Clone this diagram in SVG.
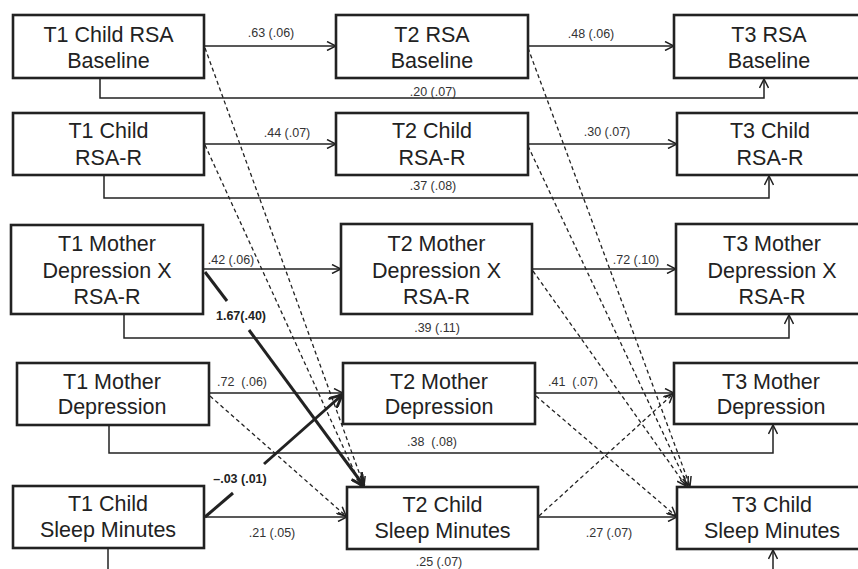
<svg xmlns="http://www.w3.org/2000/svg" width="858" height="569" viewBox="0 0 858 569">
<style>
.box{fill:#fff;stroke:#222;stroke-width:2.6}
.nt{font-family:"Liberation Sans",Arial,sans-serif;font-size:21.5px;fill:#222;text-anchor:middle}
.lb{font-family:"Liberation Sans",Arial,sans-serif;font-size:12.5px;fill:#333;text-anchor:middle}
.bl{font-weight:bold;fill:#222}
.ln{fill:none;stroke:#222;stroke-width:1.5}
.ds{fill:none;stroke:#222;stroke-width:1.3;stroke-dasharray:4 3}
.bd{fill:none;stroke:#222;stroke-width:3}
</style>
<defs>
<marker id="arr" viewBox="0 0 10 10" refX="10" refY="5" markerWidth="10" markerHeight="10" markerUnits="userSpaceOnUse" orient="auto">
<path d="M1,0.5 L10,5 L1,9.5" fill="none" stroke="#222" stroke-width="1.5"/>
</marker>
<marker id="arrb" viewBox="0 0 10 10" refX="10" refY="5" markerWidth="14" markerHeight="14" markerUnits="userSpaceOnUse" orient="auto">
<path d="M1,0.5 L10,5 L1,9.5" fill="none" stroke="#222" stroke-width="2"/>
</marker>
</defs>
<rect width="858" height="569" fill="#fff"/>

<g id="connectors">
<path class="ln" d="M204,46 H336" marker-end="url(#arr)"/>
<path class="ln" d="M528,46 H674" marker-end="url(#arr)"/>
<path class="ln" d="M100,78 V98 H764 V79" marker-end="url(#arr)"/>
<path class="ln" d="M204,144 H336" marker-end="url(#arr)"/>
<path class="ln" d="M528,144 H677" marker-end="url(#arr)"/>
<path class="ln" d="M104,175 V198 H769 V176" marker-end="url(#arr)"/>
<path class="ln" d="M203,269 H341" marker-end="url(#arr)"/>
<path class="ln" d="M532,269 H676" marker-end="url(#arr)"/>
<path class="ln" d="M124,314 V338 H789 V315" marker-end="url(#arr)"/>
<path class="ln" d="M209,393 H343" marker-end="url(#arr)"/>
<path class="ln" d="M535,393 H674" marker-end="url(#arr)"/>
<path class="ln" d="M109,425 V453 H773 V425" marker-end="url(#arr)"/>
<path class="ln" d="M204,517 H347" marker-end="url(#arr)"/>
<path class="ln" d="M538,517 H677" marker-end="url(#arr)"/>
<path class="ln" d="M108,548 V575"/>
<path class="ln" d="M773,575 V550" marker-end="url(#arr)"/>

<path class="ds" d="M205,48 L364,486" marker-end="url(#arr)"/>
<path class="ds" d="M205,145 L361,486" marker-end="url(#arr)"/>
<path class="ds" d="M210,396 L346,516" marker-end="url(#arr)"/>
<path class="ds" d="M528,48 L690,486" marker-end="url(#arr)"/>
<path class="ds" d="M528,146 L688,486" marker-end="url(#arr)"/>
<path class="ds" d="M533,271 L686,486" marker-end="url(#arr)"/>
<path class="ds" d="M536,396 L676,516" marker-end="url(#arr)"/>
<path class="ds" d="M539,516 L673,394" marker-end="url(#arr)"/>

<path class="bd" d="M205,272 L227,301"/>
<path class="bd" d="M249,330 L364,486" marker-end="url(#arrb)"/>
<path class="bd" d="M205,517 L233,493"/>
<path class="bd" d="M264,464 L342,395" marker-end="url(#arrb)"/>

<text class="lb" x="271" y="37">.63 (.06)</text>
<text class="lb" x="591" y="38">.48 (.06)</text>
<text class="lb" x="433" y="96">.20 (.07)</text>
<text class="lb" x="287" y="137">.44 (.07)</text>
<text class="lb" x="607" y="136">.30 (.07)</text>
<text class="lb" x="433" y="190">.37 (.08)</text>
<text class="lb" x="231" y="264">.42 (.06)</text>
<text class="lb" x="636" y="264">.72 (.10)</text>
<text class="lb bl" x="241" y="320">1.67(.40)</text>
<text class="lb" x="437" y="332">.39 (.11)</text>
<text class="lb" x="242" y="386" xml:space="preserve">.72  (.06)</text>
<text class="lb" x="573" y="386" xml:space="preserve">.41  (.07)</text>
<text class="lb" x="432" y="446" xml:space="preserve">.38  (.08)</text>
<text class="lb bl" x="240" y="483">–.03 (.01)</text>
<text class="lb" x="272" y="537">.21 (.05)</text>
<text class="lb" x="609" y="537">.27 (.07)</text>
<text class="lb" x="439" y="566">.25 (.07)</text>
</g>

<g id="t1_rsa_baseline"><rect class="box" x="13" y="15" width="191" height="63"/><text class="nt" x="108.5" y="41.5">T1 Child RSA</text><text class="nt" x="108.5" y="68">Baseline</text></g>
<g id="t2_rsa_baseline"><rect class="box" x="336" y="15" width="192" height="63"/><text class="nt" x="432" y="41.5">T2 RSA</text><text class="nt" x="432" y="68">Baseline</text></g>
<g id="t3_rsa_baseline"><rect class="box" x="674" y="15" width="192" height="63"/><text class="nt" x="769" y="41.5">T3 RSA</text><text class="nt" x="769" y="68">Baseline</text></g>

<g id="t1_rsar"><rect class="box" x="13" y="113" width="191" height="62"/><text class="nt" x="108.5" y="138">T1 Child</text><text class="nt" x="108.5" y="165">RSA-R</text></g>
<g id="t2_rsar"><rect class="box" x="336" y="113" width="192" height="62"/><text class="nt" x="432" y="138">T2 Child</text><text class="nt" x="432" y="165">RSA-R</text></g>
<g id="t3_rsar"><rect class="box" x="677" y="113" width="190" height="62"/><text class="nt" x="770" y="138">T3 Child</text><text class="nt" x="770" y="165">RSA-R</text></g>

<g id="t1_mdxrsa"><rect class="box" x="11" y="225" width="192" height="89"/><text class="nt" x="107" y="251">T1 Mother</text><text class="nt" x="107" y="278">Depression X</text><text class="nt" x="107" y="304">RSA-R</text></g>
<g id="t2_mdxrsa"><rect class="box" x="341" y="224" width="191" height="90"/><text class="nt" x="436.5" y="251">T2 Mother</text><text class="nt" x="436.5" y="278">Depression X</text><text class="nt" x="436.5" y="304">RSA-R</text></g>
<g id="t3_mdxrsa"><rect class="box" x="676" y="224" width="192" height="90"/><text class="nt" x="772" y="251">T3 Mother</text><text class="nt" x="772" y="278">Depression X</text><text class="nt" x="772" y="304">RSA-R</text></g>

<g id="t1_mdep"><rect class="box" x="17" y="363" width="192" height="62"/><text class="nt" x="112" y="389">T1 Mother</text><text class="nt" x="112" y="414">Depression</text></g>
<g id="t2_mdep"><rect class="box" x="343" y="363" width="192" height="61"/><text class="nt" x="439" y="389">T2 Mother</text><text class="nt" x="439" y="414">Depression</text></g>
<g id="t3_mdep"><rect class="box" x="674" y="363" width="194" height="61"/><text class="nt" x="771" y="389">T3 Mother</text><text class="nt" x="771" y="414">Depression</text></g>

<g id="t1_sleep"><rect class="box" x="13" y="486" width="191" height="62"/><text class="nt" x="108" y="511">T1 Child</text><text class="nt" x="108" y="537">Sleep Minutes</text></g>
<g id="t2_sleep"><rect class="box" x="347" y="487" width="191" height="62"/><text class="nt" x="442.5" y="512">T2 Child</text><text class="nt" x="442.5" y="538">Sleep Minutes</text></g>
<g id="t3_sleep"><rect class="box" x="677" y="487" width="190" height="62"/><text class="nt" x="772" y="512">T3 Child</text><text class="nt" x="772" y="538">Sleep Minutes</text></g>
</svg>
